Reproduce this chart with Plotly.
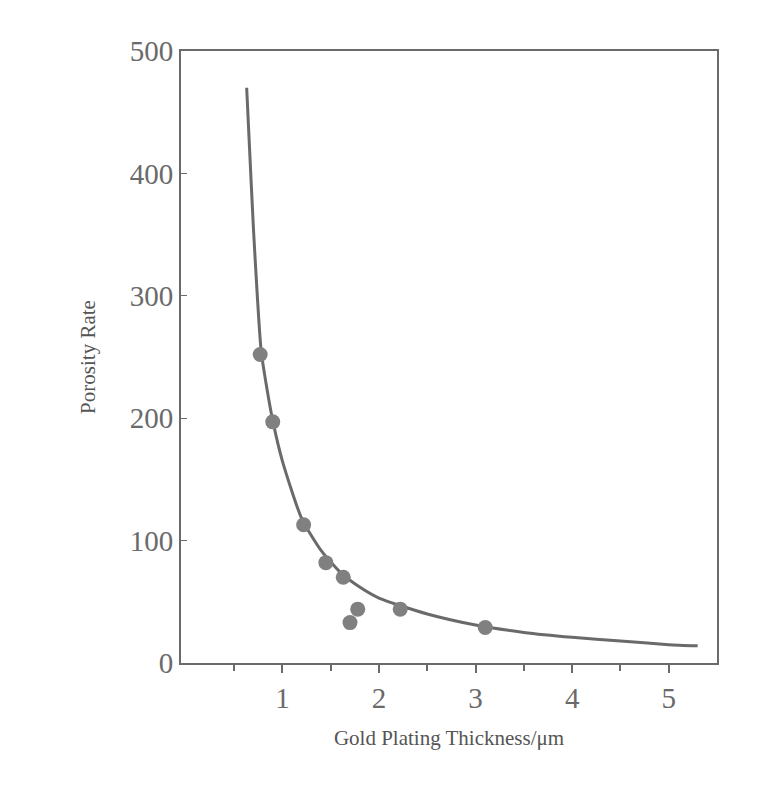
import plotly.graph_objects as go

curve_x = [0.63,0.66,0.70,0.74,0.78,0.84,0.9,1.0,1.2,1.4,1.6,1.8,2.0,2.5,3.0,3.5,4.0,4.5,5.0,5.3]
curve_y = [470,420,355,300,255,224,198,165,118,92,74,62,53,40,31,25,21,18,15,14]
pts_x = [0.77,0.9,1.22,1.45,1.63,1.7,1.78,2.22,3.1]
pts_y = [252,197,113,82,70,33,44,44,29]

gray = "#6a6a6a"
fig = go.Figure()
fig.add_trace(go.Scatter(x=curve_x, y=curve_y, mode="lines", line=dict(color=gray, width=3, shape="spline", smoothing=0.6), hoverinfo="skip"))
fig.add_trace(go.Scatter(x=pts_x, y=pts_y, mode="markers", marker=dict(color="#808080", size=15)))
fig.update_layout(
    width=768, height=786, showlegend=False,
    paper_bgcolor="white", plot_bgcolor="white",
    margin=dict(l=173, r=59, t=43, b=131),
    font=dict(family="Liberation Serif", color=gray),
)
fig.update_xaxes(range=[-0.05, 5.5], tickvals=[1,2,3,4,5], ticks="outside", ticklen=8, tickwidth=2,
                 tickcolor=gray, tickfont=dict(size=29), showgrid=False, zeroline=False,
                 showline=True, linecolor=gray, linewidth=2, mirror=True,
                 minor=dict(tickvals=[0.5,1.5,2.5,3.5,4.5], ticks="outside", ticklen=6, tickcolor=gray),
                 title=dict(text="Gold Plating Thickness/μm", font=dict(size=21, color="#555"), standoff=18))
fig.update_yaxes(range=[0, 500], tickvals=[0,100,200,300,400,500], ticks="inside", ticklen=6,
                 tickcolor=gray, tickfont=dict(size=29), showgrid=False, zeroline=False,
                 showline=True, linecolor=gray, linewidth=2, mirror=True,
                 title=dict(text="Porosity Rate", font=dict(size=21, color="#555"), standoff=28))
fig.write_html("out.html")
